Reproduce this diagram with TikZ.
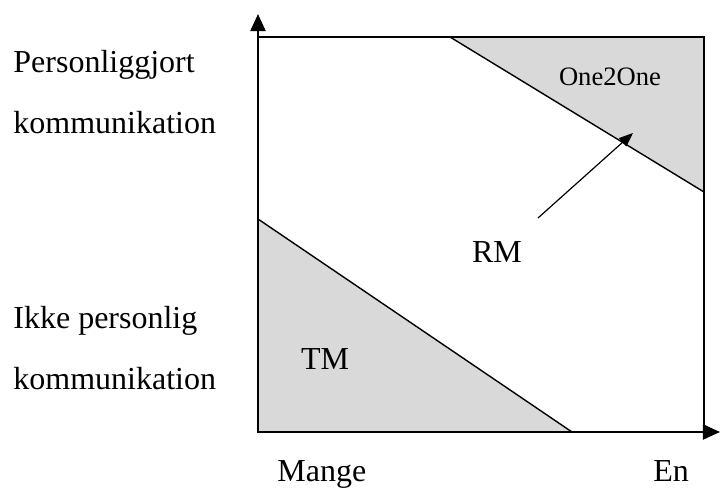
\documentclass[tikz,border=0pt]{standalone}
\usepackage{fontspec}
\setmainfont{Liberation Serif}
\usetikzlibrary{arrows.meta}
\definecolor{zonegray}{RGB}{217,217,217}
\begin{document}
\begin{tikzpicture}
  [x=0.5pt, y=0.5pt,
   zone/.style={fill=zonegray, draw=black, line width=0.7pt},
   frame/.style={draw=black, line width=0.75pt},
   axis/.style={line width=1.1pt, -{Triangle[length=8.5pt, width=7.5pt]}},
   lbl/.style={font=\fontsize{16}{19}\selectfont, inner sep=0pt}]

  \useasboundingbox (0,0) rectangle (720,489);

  \coordinate (o)    at (258,57);
  \coordinate (ne)   at (704,452);
  \coordinate (ytop) at (258,475);
  \coordinate (xend) at (720,57);
  \coordinate (rmtail) at (538,271);
  \coordinate (rmtip)  at (633,356);

  \filldraw[zone] (450,452) -- (ne) -- (704,297) -- cycle;
  \filldraw[zone] (258,270) -- (572,57) -- (o) -- cycle;
  \draw[frame] (o) rectangle (ne);

  \draw[axis] (o) -- (ytop);
  \draw[axis] (o) -- (xend);
  \draw[line width=0.6pt, -{Triangle[length=7pt, width=5.5pt]}] (rmtail) -- (rmtip);

  \node[lbl, anchor=base west] (pers)  at (13,417) {Personliggjort};
  \node[lbl, anchor=base west] (komm1) at (13,356) {kommunikation};
  \node[lbl, anchor=base west] (ikke)  at (13,161) {Ikke personlig};
  \node[lbl, anchor=base west] (komm2) at (13,99)  {kommunikation};
  \node[lbl, anchor=base west] (mange) at (277,8)  {Mange};
  \node[lbl, anchor=base west] (en)    at (653,8)  {En};
  \node[lbl] (tm) at (325,130) {TM};
  \node[lbl] (rm) at (497,237) {RM};
  \node[lbl, font=\fontsize{13.3}{16}\selectfont] (one) at (610,412) {One2One};
\end{tikzpicture}
\end{document}
